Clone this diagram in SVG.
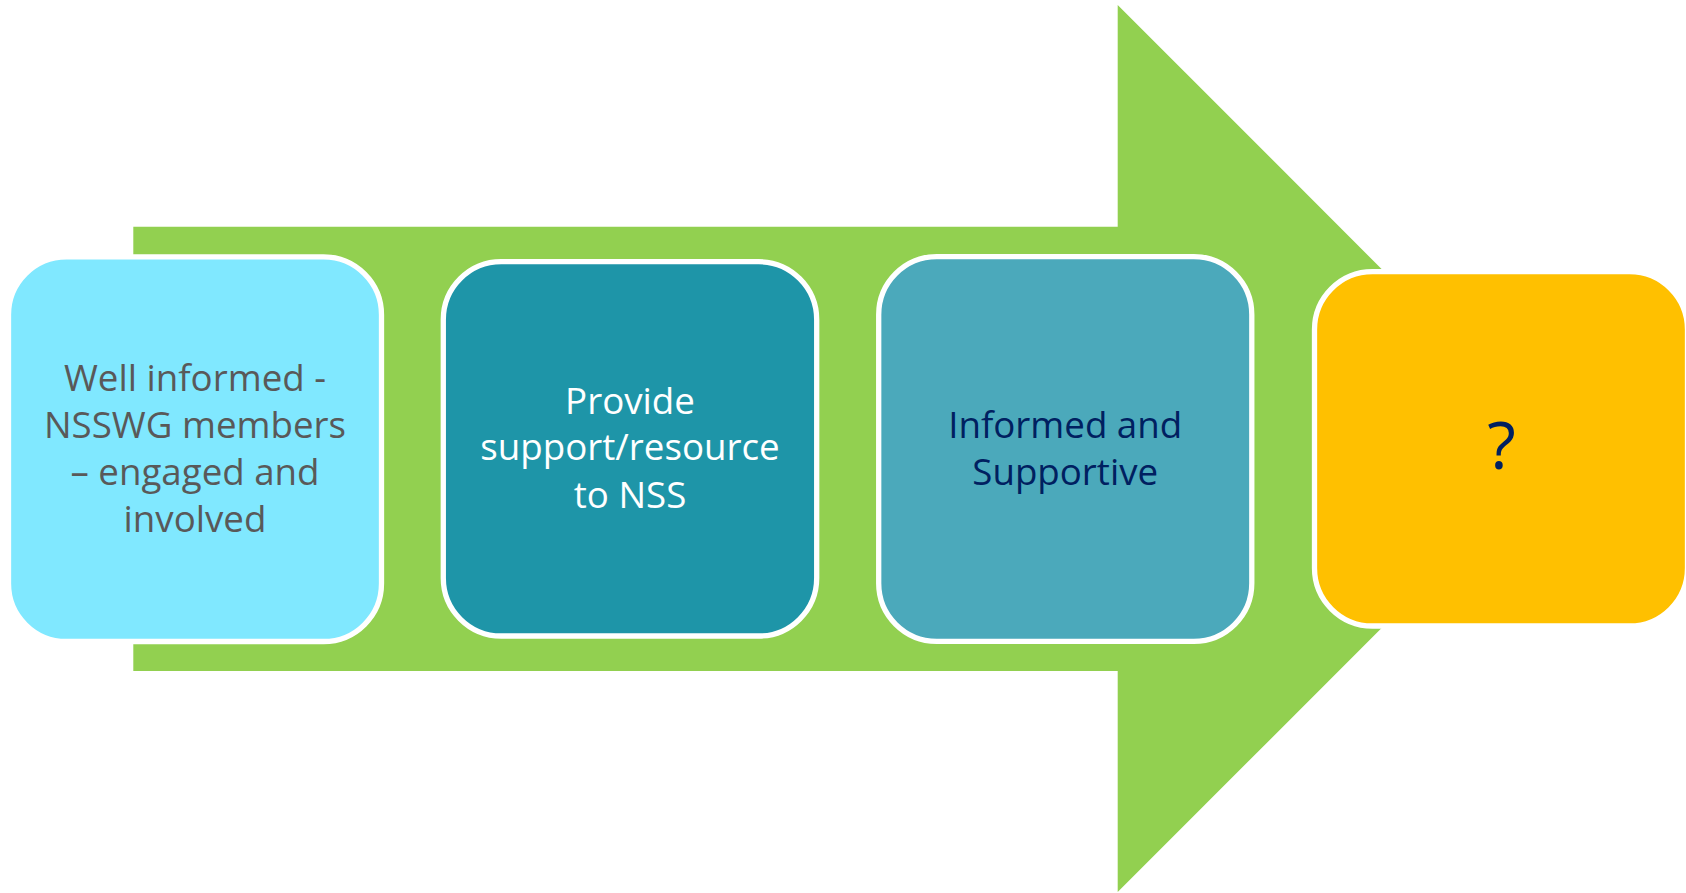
<svg xmlns="http://www.w3.org/2000/svg" width="1686" height="893" viewBox="0 0 1686 893">
  <style>
    .box { stroke: #FFFFFF; stroke-width: 5.3; }
    .lbl { font-family: "Open Sans", "Noto Sans", "Liberation Sans", sans-serif; font-size: 36.7px; text-anchor: middle; }
  </style>
  <rect x="0" y="0" width="1686" height="893" fill="#FFFFFF"/>
  <g id="background-arrow">
    <polygon points="133.3,226.7 1117.7,226.7 1117.7,5 1561,448.5 1117.7,892 1117.7,671 133.3,671" fill="#92D050"/>
  </g>
  <g id="node-1">
    <rect class="box" x="8.5" y="256.8" width="373" height="384.7" rx="58" ry="58" fill="#80E8FF"/>
    <text class="lbl" fill="#595959"><tspan x="195" y="391">Well informed -</tspan><tspan x="195" y="437.7">NSSWG members</tspan><tspan x="195" y="485">– engaged and</tspan><tspan x="195" y="531.7">involved</tspan></text>
  </g>
  <g id="node-2">
    <rect class="box" x="443.3" y="261.7" width="373.4" height="374.3" rx="58" ry="58" fill="#1E95A8"/>
    <text class="lbl" fill="#FFFFFF"><tspan x="630" y="414.3">Provide</tspan><tspan x="630" y="460">support/resource</tspan><tspan x="630" y="507.7">to NSS</tspan></text>
  </g>
  <g id="node-3">
    <rect class="box" x="878.7" y="256.7" width="373.1" height="384.6" rx="58" ry="58" fill="#4BA9BB"/>
    <text class="lbl" fill="#002060"><tspan x="1065.2" y="437.7">Informed and</tspan><tspan x="1065.2" y="485">Supportive</tspan></text>
  </g>
  <g id="node-4">
    <rect class="box" x="1314.5" y="271.7" width="373" height="354.3" rx="58" ry="58" fill="#FFC000"/>
    <text class="lbl" fill="#002060" style="font-size:66px" x="1501.5" y="469.3">?</text>
  </g>
</svg>
